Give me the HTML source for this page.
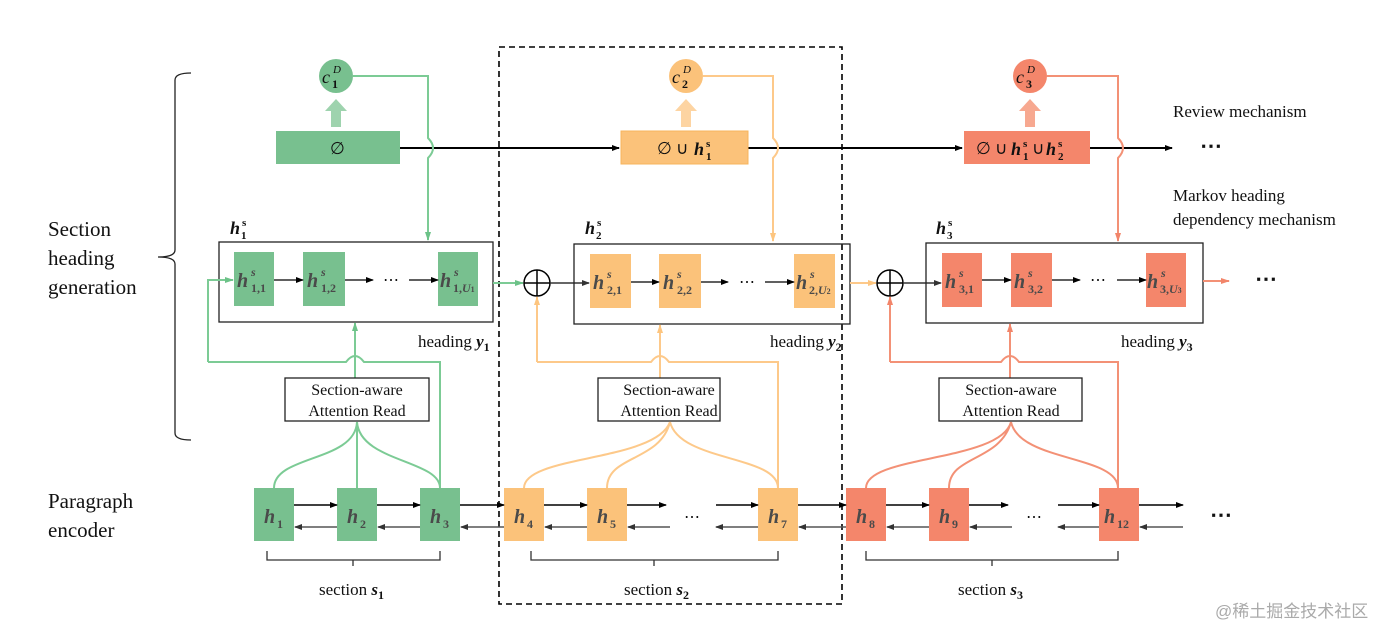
<!DOCTYPE html>
<html><head><meta charset="utf-8"><style>
html,body{margin:0;padding:0;background:#fff;}
svg{display:block;}
text{font-family:"Liberation Serif",serif;fill:#111;}
.h{font-weight:bold;font-style:italic;fill:#4a4a4a;font-size:20px;}
.sup{font-style:italic;font-weight:bold;font-size:12px;fill:#4a4a4a;}
.sub{font-style:normal;font-weight:bold;font-size:12px;fill:#4a4a4a;}
.hb{font-weight:bold;font-style:italic;font-size:18px;fill:#111;}
.sb{font-style:normal;font-weight:bold;font-size:11px;fill:#111;}
</style></head><body>
<svg width="1382" height="629" viewBox="0 0 1382 629" xmlns="http://www.w3.org/2000/svg">
<defs>
<marker id="ab" markerWidth="8" markerHeight="8" refX="7" refY="4" orient="auto" markerUnits="userSpaceOnUse"><path d="M0,1 L8,4 L0,7z" fill="#000"/></marker>
<marker id="ag" markerWidth="8" markerHeight="8" refX="7" refY="4" orient="auto" markerUnits="userSpaceOnUse"><path d="M0,1 L8,4 L0,7z" fill="#333"/></marker>
<marker id="aG" markerWidth="9" markerHeight="8" refX="8" refY="4" orient="auto" markerUnits="userSpaceOnUse"><path d="M0,1 L9,4 L0,7z" fill="#6cc288"/></marker>
<marker id="aO" markerWidth="9" markerHeight="8" refX="8" refY="4" orient="auto" markerUnits="userSpaceOnUse"><path d="M0,1 L9,4 L0,7z" fill="#fdc57f"/></marker>
<marker id="aR" markerWidth="9" markerHeight="8" refX="8" refY="4" orient="auto" markerUnits="userSpaceOnUse"><path d="M0,1 L9,4 L0,7z" fill="#f2856a"/></marker>
</defs>

<text x="48" y="236" font-size="21">Section</text>
<text x="48" y="265" font-size="21">heading</text>
<text x="48" y="294" font-size="21">generation</text>
<text x="48" y="508" font-size="21">Paragraph</text>
<text x="48" y="537" font-size="21">encoder</text>
<path d="M191,73 Q175,73 175,80 L175,250 Q175,257 158,257 Q175,257 175,264 L175,433 Q175,440 191,440" fill="none" stroke="#222" stroke-width="1.3"/>

<rect x="499" y="47" width="343" height="557" fill="none" stroke="#000" stroke-width="1.6" stroke-dasharray="6,4"/>

<line x1="400" y1="148" x2="619" y2="148" stroke="#000" stroke-width="2" marker-end="url(#ab)"/>
<line x1="748" y1="148" x2="962" y2="148" stroke="#000" stroke-width="2" marker-end="url(#ab)"/>
<line x1="1090" y1="148" x2="1172" y2="148" stroke="#000" stroke-width="2" marker-end="url(#ab)"/>
<text x="1200" y="153" font-size="22" font-weight="bold">⋯</text>
<text x="1173" y="117" font-size="17">Review mechanism</text>
<text x="1173" y="201" font-size="17">Markov heading</text>
<text x="1173" y="225" font-size="17">dependency mechanism</text>

<!-- Section 1 -->
<path d="M353,76 H428 V138 Q438,148 428,158 V240" fill="none" stroke="#7ccb95" stroke-width="2" marker-end="url(#aG)"/>
<circle cx="336" cy="76" r="17" fill="#78c08f"/>
<text x="322" y="83" font-size="18" font-style="italic" fill="#555">c</text>
<text x="333" y="73" font-size="11" font-style="italic" fill="#555">D</text>
<text x="332" y="88" font-size="12" font-weight="bold" fill="#555">1</text>
<path d="M331,127 V111 H325 L336,99 L347,111 H341 V127z" fill="#9ed3ae"/>
<rect x="276" y="131" width="124" height="33" fill="#78c08f"/>
<text x="330" y="154" font-size="17" fill="#444">∅</text>

<text x="230" y="234" class="hb">h</text><text x="242" y="226" class="sb" font-style="italic">s</text><text x="241" y="239" class="sb">1</text>
<rect x="219" y="242" width="274" height="80" fill="none" stroke="#222" stroke-width="1.3"/>
<rect x="234" y="252" width="40" height="54" fill="#78c08f"/>
<rect x="303" y="252" width="42" height="54" fill="#78c08f"/>
<rect x="438" y="252" width="40" height="54" fill="#78c08f"/>
<text x="237" y="287" class="h">h</text><text x="251" y="276" class="sup">s</text><text x="251" y="292" class="sub">1,1</text>
<text x="307" y="287" class="h">h</text><text x="321" y="276" class="sup">s</text><text x="321" y="292" class="sub">1,2</text>
<text x="440" y="287" class="h">h</text><text x="454" y="276" class="sup">s</text><text x="453" y="292" class="sub">1,<tspan font-style="italic">U</tspan><tspan font-size="8">1</tspan></text>
<line x1="274" y1="280" x2="303" y2="280" stroke="#000" stroke-width="1.3" marker-end="url(#ab)"/>
<line x1="345" y1="280" x2="373" y2="280" stroke="#000" stroke-width="1.3" marker-end="url(#ab)"/>
<text x="383" y="285" font-size="16">⋯</text>
<line x1="409" y1="280" x2="438" y2="280" stroke="#000" stroke-width="1.3" marker-end="url(#ab)"/>
<line x1="493" y1="283" x2="523" y2="283" stroke="#7ccb95" stroke-width="2" marker-end="url(#aG)"/>
<text x="418" y="347" font-size="17">heading <tspan font-style="italic" font-weight="bold">y</tspan><tspan dy="4" font-size="12" font-weight="bold">1</tspan></text>

<path d="M208,362 V280 H233" fill="none" stroke="#7ccb95" stroke-width="2" marker-end="url(#aG)"/>
<path d="M208,362 H346 Q355,350 364,362 H440 V488" fill="none" stroke="#7ccb95" stroke-width="2"/>
<line x1="355" y1="378" x2="355" y2="323" stroke="#7ccb95" stroke-width="2" marker-end="url(#aG)"/>
<rect x="285" y="378" width="144" height="43" fill="#fff" stroke="#222" stroke-width="1.3"/>
<text x="357" y="395" font-size="16" text-anchor="middle">Section-aware</text>
<text x="357" y="416" font-size="16" text-anchor="middle">Attention Read</text>
<path d="M274,488 C274,455 355,462 357,422 M357,488 V422 M440,488 C440,460 360,462 357,422" fill="none" stroke="#7ccb95" stroke-width="2"/>

<!-- Section 2 -->
<path d="M703,76 H773 V138 Q783,148 773,158 V241" fill="none" stroke="#fdc98a" stroke-width="2" marker-end="url(#aO)"/>
<circle cx="686" cy="76" r="17" fill="#fbc27a"/>
<text x="672" y="83" font-size="18" font-style="italic" fill="#555">c</text>
<text x="683" y="73" font-size="11" font-style="italic" fill="#555">D</text>
<text x="682" y="88" font-size="12" font-weight="bold" fill="#555">2</text>
<path d="M681,127 V111 H675 L686,99 L697,111 H691 V127z" fill="#fdd4a2"/>
<rect x="621" y="131" width="127" height="33" fill="#fbc27a" stroke="#f7b45c" stroke-width="1"/>
<text x="657" y="154" font-size="17" fill="#444">∅ ∪</text>
<text x="694" y="155" class="hb" fill="#444">h</text><text x="706" y="147" class="sb" font-style="italic">s</text><text x="706" y="160" class="sb">1</text>

<circle cx="537" cy="283" r="13" fill="#fff" stroke="#000" stroke-width="1.5"/>
<path d="M524,283 H550 M537,270 V296" stroke="#000" stroke-width="1.5"/>
<line x1="550" y1="283" x2="589" y2="283" stroke="#333" stroke-width="1.5" marker-end="url(#ag)"/>
<text x="585" y="234" class="hb">h</text><text x="597" y="226" class="sb" font-style="italic">s</text><text x="596" y="239" class="sb">2</text>
<rect x="574" y="244" width="276" height="80" fill="none" stroke="#222" stroke-width="1.3"/>
<rect x="590" y="254" width="41" height="54" fill="#fbc27a"/>
<rect x="659" y="254" width="42" height="54" fill="#fbc27a"/>
<rect x="794" y="254" width="41" height="54" fill="#fbc27a"/>
<text x="593" y="289" class="h">h</text><text x="607" y="278" class="sup">s</text><text x="607" y="294" class="sub">2,1</text>
<text x="663" y="289" class="h">h</text><text x="677" y="278" class="sup">s</text><text x="677" y="294" class="sub">2,2</text>
<text x="796" y="289" class="h">h</text><text x="810" y="278" class="sup">s</text><text x="809" y="294" class="sub">2,<tspan font-style="italic">U</tspan><tspan font-size="8">2</tspan></text>
<line x1="631" y1="282" x2="659" y2="282" stroke="#000" stroke-width="1.3" marker-end="url(#ab)"/>
<line x1="701" y1="282" x2="728" y2="282" stroke="#000" stroke-width="1.3" marker-end="url(#ab)"/>
<text x="739" y="287" font-size="16">⋯</text>
<line x1="765" y1="282" x2="794" y2="282" stroke="#000" stroke-width="1.3" marker-end="url(#ab)"/>
<line x1="850" y1="283" x2="876" y2="283" stroke="#fdc98a" stroke-width="2" marker-end="url(#aO)"/>
<text x="770" y="347" font-size="17">heading <tspan font-style="italic" font-weight="bold">y</tspan><tspan dy="4" font-size="12" font-weight="bold">2</tspan></text>

<path d="M537,362 V297" fill="none" stroke="#fdc98a" stroke-width="2" marker-end="url(#aO)"/>
<path d="M537,362 H651 Q660,350 669,362 H778 V488" fill="none" stroke="#fdc98a" stroke-width="2"/>
<line x1="660" y1="378" x2="660" y2="325" stroke="#fdc98a" stroke-width="2" marker-end="url(#aO)"/>
<rect x="598" y="378" width="122" height="43" fill="#fff" stroke="#222" stroke-width="1.3"/>
<text x="669" y="395" font-size="16" text-anchor="middle">Section-aware</text>
<text x="669" y="416" font-size="16" text-anchor="middle">Attention Read</text>
<path d="M524,488 C524,455 655,462 670,422 M607,488 C607,455 660,462 670,422 M778,488 C778,455 680,462 670,422" fill="none" stroke="#fdc98a" stroke-width="2"/>

<!-- Section 3 -->
<path d="M1047,76 H1118 V138 Q1128,148 1118,158 V241" fill="none" stroke="#f39176" stroke-width="2" marker-end="url(#aR)"/>
<circle cx="1030" cy="76" r="17" fill="#f4866b"/>
<text x="1016" y="83" font-size="18" font-style="italic" fill="#555">c</text>
<text x="1027" y="73" font-size="11" font-style="italic" fill="#555">D</text>
<text x="1026" y="88" font-size="12" font-weight="bold" fill="#555">3</text>
<path d="M1025,127 V111 H1019 L1030,99 L1041,111 H1035 V127z" fill="#f7a890"/>
<rect x="964" y="131" width="126" height="33" fill="#f4866b"/>
<text x="976" y="154" font-size="17" fill="#444">∅ ∪</text>
<text x="1011" y="155" class="hb" fill="#444">h</text><text x="1023" y="147" class="sb" font-style="italic">s</text><text x="1023" y="160" class="sb">1</text>
<text x="1032" y="154" font-size="17" fill="#444">∪</text>
<text x="1046" y="155" class="hb" fill="#444">h</text><text x="1058" y="147" class="sb" font-style="italic">s</text><text x="1058" y="160" class="sb">2</text>

<circle cx="890" cy="283" r="13" fill="#fff" stroke="#000" stroke-width="1.5"/>
<path d="M877,283 H903 M890,270 V296" stroke="#000" stroke-width="1.5"/>
<line x1="903" y1="283" x2="941" y2="283" stroke="#333" stroke-width="1.5" marker-end="url(#ag)"/>
<text x="936" y="234" class="hb">h</text><text x="948" y="226" class="sb" font-style="italic">s</text><text x="947" y="239" class="sb">3</text>
<rect x="926" y="243" width="277" height="80" fill="none" stroke="#222" stroke-width="1.3"/>
<rect x="942" y="253" width="40" height="54" fill="#f4866b"/>
<rect x="1011" y="253" width="41" height="54" fill="#f4866b"/>
<rect x="1146" y="253" width="40" height="54" fill="#f4866b"/>
<text x="945" y="288" class="h">h</text><text x="959" y="277" class="sup">s</text><text x="959" y="293" class="sub">3,1</text>
<text x="1014" y="288" class="h">h</text><text x="1028" y="277" class="sup">s</text><text x="1028" y="293" class="sub">3,2</text>
<text x="1147" y="288" class="h">h</text><text x="1161" y="277" class="sup">s</text><text x="1160" y="293" class="sub">3,<tspan font-style="italic">U</tspan><tspan font-size="8">3</tspan></text>
<line x1="982" y1="280" x2="1011" y2="280" stroke="#000" stroke-width="1.3" marker-end="url(#ab)"/>
<line x1="1052" y1="280" x2="1080" y2="280" stroke="#000" stroke-width="1.3" marker-end="url(#ab)"/>
<text x="1090" y="285" font-size="16">⋯</text>
<line x1="1117" y1="280" x2="1146" y2="280" stroke="#000" stroke-width="1.3" marker-end="url(#ab)"/>
<line x1="1203" y1="281" x2="1229" y2="281" stroke="#f39176" stroke-width="2" marker-end="url(#aR)"/>
<text x="1255" y="286" font-size="22" font-weight="bold">⋯</text>
<text x="1121" y="347" font-size="17">heading <tspan font-style="italic" font-weight="bold">y</tspan><tspan dy="4" font-size="12" font-weight="bold">3</tspan></text>

<path d="M890,362 V297" fill="none" stroke="#f39176" stroke-width="2" marker-end="url(#aR)"/>
<path d="M890,362 H1001 Q1010,350 1019,362 H1118 V488" fill="none" stroke="#f39176" stroke-width="2"/>
<line x1="1010" y1="378" x2="1010" y2="324" stroke="#f39176" stroke-width="2" marker-end="url(#aR)"/>
<rect x="939" y="378" width="143" height="43" fill="#fff" stroke="#222" stroke-width="1.3"/>
<text x="1011" y="395" font-size="16" text-anchor="middle">Section-aware</text>
<text x="1011" y="416" font-size="16" text-anchor="middle">Attention Read</text>
<path d="M866,488 C866,455 1000,462 1011,422 M949,488 C949,455 1000,462 1011,422 M1118,488 C1118,455 1020,462 1011,422" fill="none" stroke="#f39176" stroke-width="2"/>

<!-- Paragraph encoder -->
<rect x="254" y="488" width="40" height="53" fill="#78c08f"/>
<rect x="337" y="488" width="40" height="53" fill="#78c08f"/>
<rect x="420" y="488" width="40" height="53" fill="#78c08f"/>
<rect x="504" y="488" width="40" height="53" fill="#fbc27a"/>
<rect x="587" y="488" width="40" height="53" fill="#fbc27a"/>
<rect x="758" y="488" width="40" height="53" fill="#fbc27a"/>
<rect x="846" y="488" width="40" height="53" fill="#f4866b"/>
<rect x="929" y="488" width="40" height="53" fill="#f4866b"/>
<rect x="1099" y="488" width="40" height="53" fill="#f4866b"/>
<text x="264" y="523" class="h">h</text><text x="277" y="528" class="sub" font-size="13">1</text>
<text x="347" y="523" class="h">h</text><text x="360" y="528" class="sub" font-size="13">2</text>
<text x="430" y="523" class="h">h</text><text x="443" y="528" class="sub" font-size="13">3</text>
<text x="514" y="523" class="h">h</text><text x="527" y="528" class="sub" font-size="13">4</text>
<text x="597" y="523" class="h">h</text><text x="610" y="528" class="sub" font-size="13">5</text>
<text x="768" y="523" class="h">h</text><text x="781" y="528" class="sub" font-size="13">7</text>
<text x="856" y="523" class="h">h</text><text x="869" y="528" class="sub" font-size="13">8</text>
<text x="939" y="523" class="h">h</text><text x="952" y="528" class="sub" font-size="13">9</text>
<text x="1104" y="523" class="h">h</text><text x="1117" y="528" class="sub" font-size="13">12</text>
<g stroke-width="1.5" fill="none">
<g stroke="#000">
<line x1="294" y1="505" x2="337" y2="505" marker-end="url(#ab)"/>
<line x1="377" y1="505" x2="420" y2="505" marker-end="url(#ab)"/>
<line x1="460" y1="505" x2="504" y2="505" marker-end="url(#ab)"/>
<line x1="544" y1="505" x2="587" y2="505" marker-end="url(#ab)"/>
<line x1="627" y1="505" x2="666" y2="505" marker-end="url(#ab)"/>
<line x1="716" y1="505" x2="758" y2="505" marker-end="url(#ab)"/>
<line x1="798" y1="505" x2="846" y2="505" marker-end="url(#ab)"/>
<line x1="886" y1="505" x2="929" y2="505" marker-end="url(#ab)"/>
<line x1="969" y1="505" x2="1008" y2="505" marker-end="url(#ab)"/>
<line x1="1058" y1="505" x2="1099" y2="505" marker-end="url(#ab)"/>
<line x1="1139" y1="505" x2="1183" y2="505" marker-end="url(#ab)"/>
</g>
<g stroke="#555">
<line x1="337" y1="527" x2="295" y2="527" marker-end="url(#ag)"/>
<line x1="420" y1="527" x2="378" y2="527" marker-end="url(#ag)"/>
<line x1="504" y1="527" x2="461" y2="527" marker-end="url(#ag)"/>
<line x1="587" y1="527" x2="545" y2="527" marker-end="url(#ag)"/>
<line x1="670" y1="527" x2="628" y2="527" marker-end="url(#ag)"/>
<line x1="758" y1="527" x2="716" y2="527" marker-end="url(#ag)"/>
<line x1="846" y1="527" x2="799" y2="527" marker-end="url(#ag)"/>
<line x1="929" y1="527" x2="887" y2="527" marker-end="url(#ag)"/>
<line x1="1012" y1="527" x2="970" y2="527" marker-end="url(#ag)"/>
<line x1="1099" y1="527" x2="1058" y2="527" marker-end="url(#ag)"/>
<line x1="1183" y1="527" x2="1140" y2="527" marker-end="url(#ag)"/>
</g>
</g>
<text x="684" y="522" font-size="16">⋯</text>
<text x="1026" y="522" font-size="16">⋯</text>
<text x="1210" y="522" font-size="22" font-weight="bold">⋯</text>

<g fill="none" stroke="#333" stroke-width="1.3">
<path d="M267,551 V560 H440 V551 M353,560 V566"/>
<path d="M531,551 V560 H778 V551 M654,560 V566"/>
<path d="M866,551 V560 H1118 V551 M992,560 V566"/>
</g>
<text x="319" y="595" font-size="17">section <tspan font-style="italic" font-weight="bold">s</tspan><tspan dy="4" font-size="12" font-weight="bold">1</tspan></text>
<text x="624" y="595" font-size="17">section <tspan font-style="italic" font-weight="bold">s</tspan><tspan dy="4" font-size="12" font-weight="bold">2</tspan></text>
<text x="958" y="595" font-size="17">section <tspan font-style="italic" font-weight="bold">s</tspan><tspan dy="4" font-size="12" font-weight="bold">3</tspan></text>

<text x="1215" y="617" font-size="17" style="font-family:'Liberation Sans','Noto Sans CJK SC',sans-serif;fill:#aaa">@稀土掘金技术社区</text>
</svg>
</body></html>
